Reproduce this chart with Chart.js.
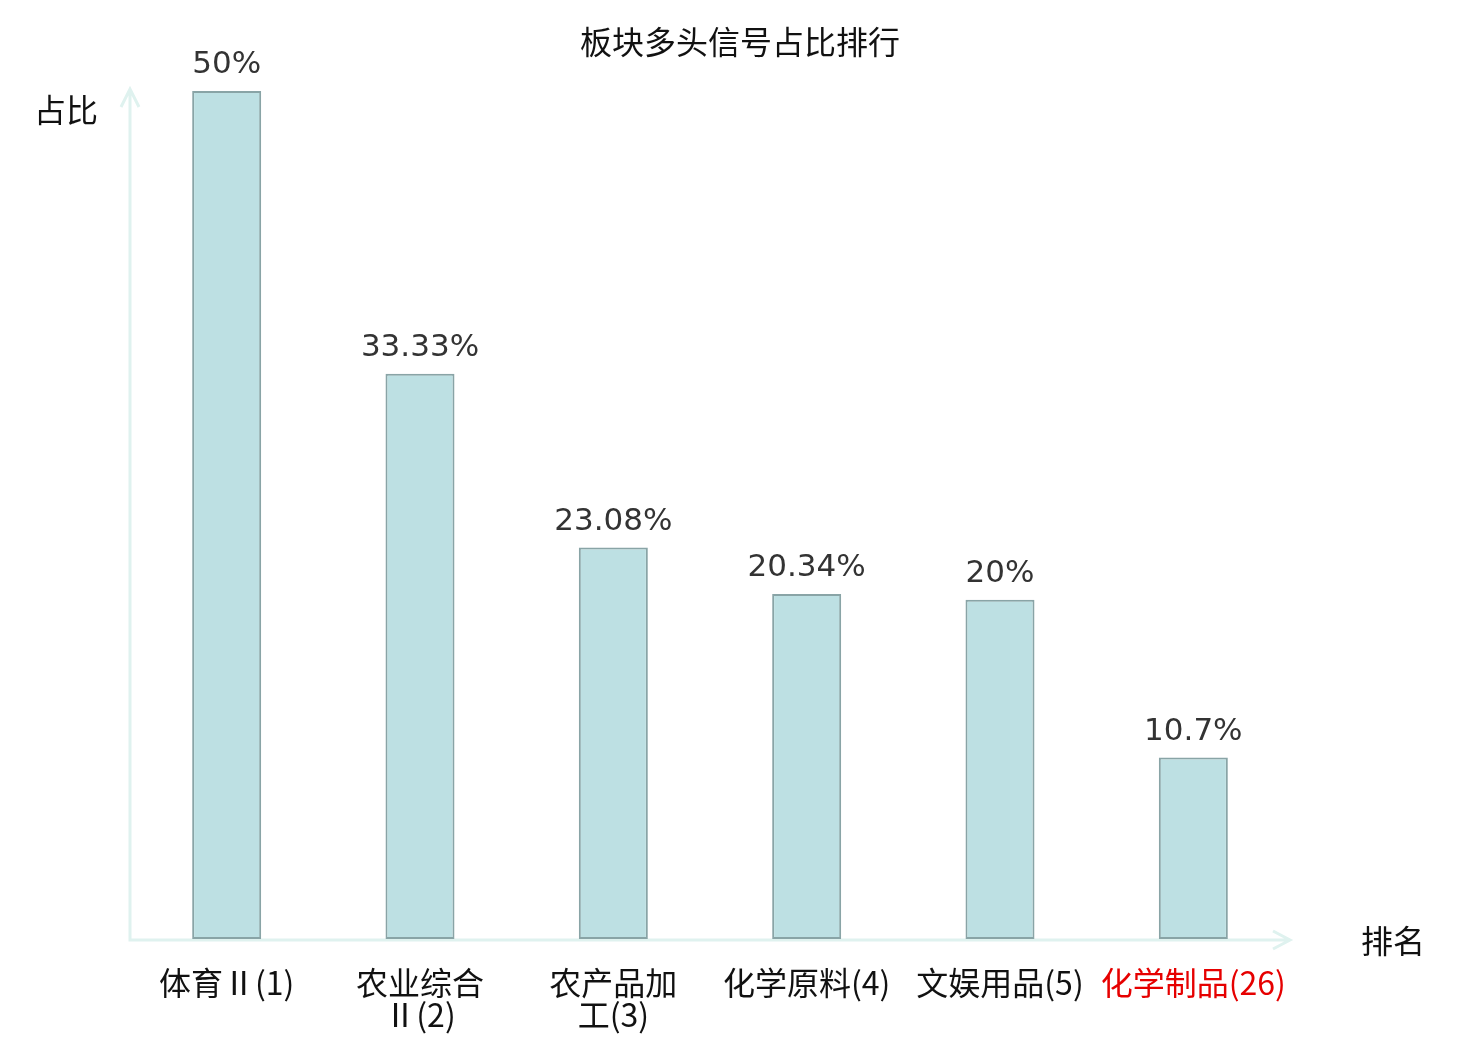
<!DOCTYPE html>
<html>
<head>
<meta charset="utf-8">
<script src="https://cdn.jsdelivr.net/npm/chart.js@4.4.1/dist/chart.umd.min.js"></script>
<style>
html,body{margin:0;padding:0;background:#fff;}
#wrap{width:1480px;height:1040px;position:relative;}
</style>
</head>
<body>
<div id="wrap"><canvas id="c"></canvas></div>
<script>
const titleText = '板块多头信号占比排行';
const yAxisName = '占比';
const xAxisName = '排名';
const categories = [['体育Ⅱ(1)'], ['农业综合', 'Ⅱ(2)'], ['农产品加', '工(3)'], ['化学原料(4)'], ['文娱用品(5)'], ['化学制品(26)']];
const values = [50, 33.33, 23.08, 20.34, 20, 10.7];
const valueLabels = ['50%', '33.33%', '23.08%', '20.34%', '20%', '10.7%'];
const highlightIndex = 5;

const cjk = '"Noto Sans CJK SC", "Noto Sans", sans-serif';
const axisColor = '#dff2ef';

const decor = {
  id: 'decor',
  beforeDatasetsDraw(chart) {
    const ctx = chart.ctx, a = chart.chartArea;
    const y0 = chart.scales.y.getPixelForValue(0) + 1;
    const x0 = a.left;
    const xEnd = a.right;
    const yTop = a.top - 2;
    ctx.save();
    ctx.strokeStyle = axisColor;
    ctx.lineWidth = 3;
    ctx.lineCap = 'butt';
    ctx.beginPath();
    ctx.moveTo(x0, y0 + 1.5); ctx.lineTo(x0, yTop);
    ctx.moveTo(x0 - 9, yTop + 18); ctx.lineTo(x0, yTop); ctx.lineTo(x0 + 9, yTop + 18);
    ctx.moveTo(x0 - 1.5, y0); ctx.lineTo(xEnd, y0);
    ctx.moveTo(xEnd - 17, y0 - 9); ctx.lineTo(xEnd, y0); ctx.lineTo(xEnd - 17, y0 + 9);
    ctx.stroke();
    ctx.restore();
  },
  afterDatasetsDraw(chart) {
    const ctx = chart.ctx;
    const meta = chart.getDatasetMeta(0);
    ctx.save();
    ctx.fillStyle = '#333';
    ctx.font = '31px "DejaVu Sans", sans-serif';
    ctx.textAlign = 'center';
    ctx.textBaseline = 'alphabetic';
    meta.data.forEach((bar, i) => {
      ctx.fillText(valueLabels[i], bar.x, bar.y - 18);
    });
    ctx.fillStyle = '#111';
    ctx.font = '32px ' + cjk;
    ctx.textBaseline = 'middle';
    ctx.fillText(titleText, chart.width / 2, 42);
    ctx.textAlign = 'left';
    ctx.fillText(yAxisName, 34, 110);
    ctx.fillText(xAxisName, 1361, 941);
    ctx.restore();
  }
};

new Chart(document.getElementById('c'), {
  type: 'bar',
  data: {
    labels: categories,
    datasets: [{
      data: values,
      backgroundColor: '#bde0e3',
      borderColor: '#89a4a6',
      borderWidth: 2,
      borderSkipped: false,
      categoryPercentage: 1,
      barPercentage: 0.357
    }]
  },
  options: {
    responsive: true,
    maintainAspectRatio: false,
    devicePixelRatio: 1,
    animation: false,
    layout: { padding: { left: 130, right: 190, top: 91, bottom: 0 } },
    plugins: { legend: { display: false }, tooltip: { enabled: false }, title: { display: false } },
    scales: {
      y: { display: false, min: 0, max: 50 },
      x: {
        grid: { display: false, drawTicks: false },
        border: { display: false },
        ticks: {
          padding: 28,
          autoSkip: false,
          maxRotation: 0,
          font: { family: cjk, size: 32, lineHeight: 1.0 },
          color: (c) => c.index === highlightIndex ? '#e60000' : '#111'
        },
        afterFit(scale) { scale.height = 101; }
      }
    }
  },
  plugins: [decor]
});
</script>
</body>
</html>
